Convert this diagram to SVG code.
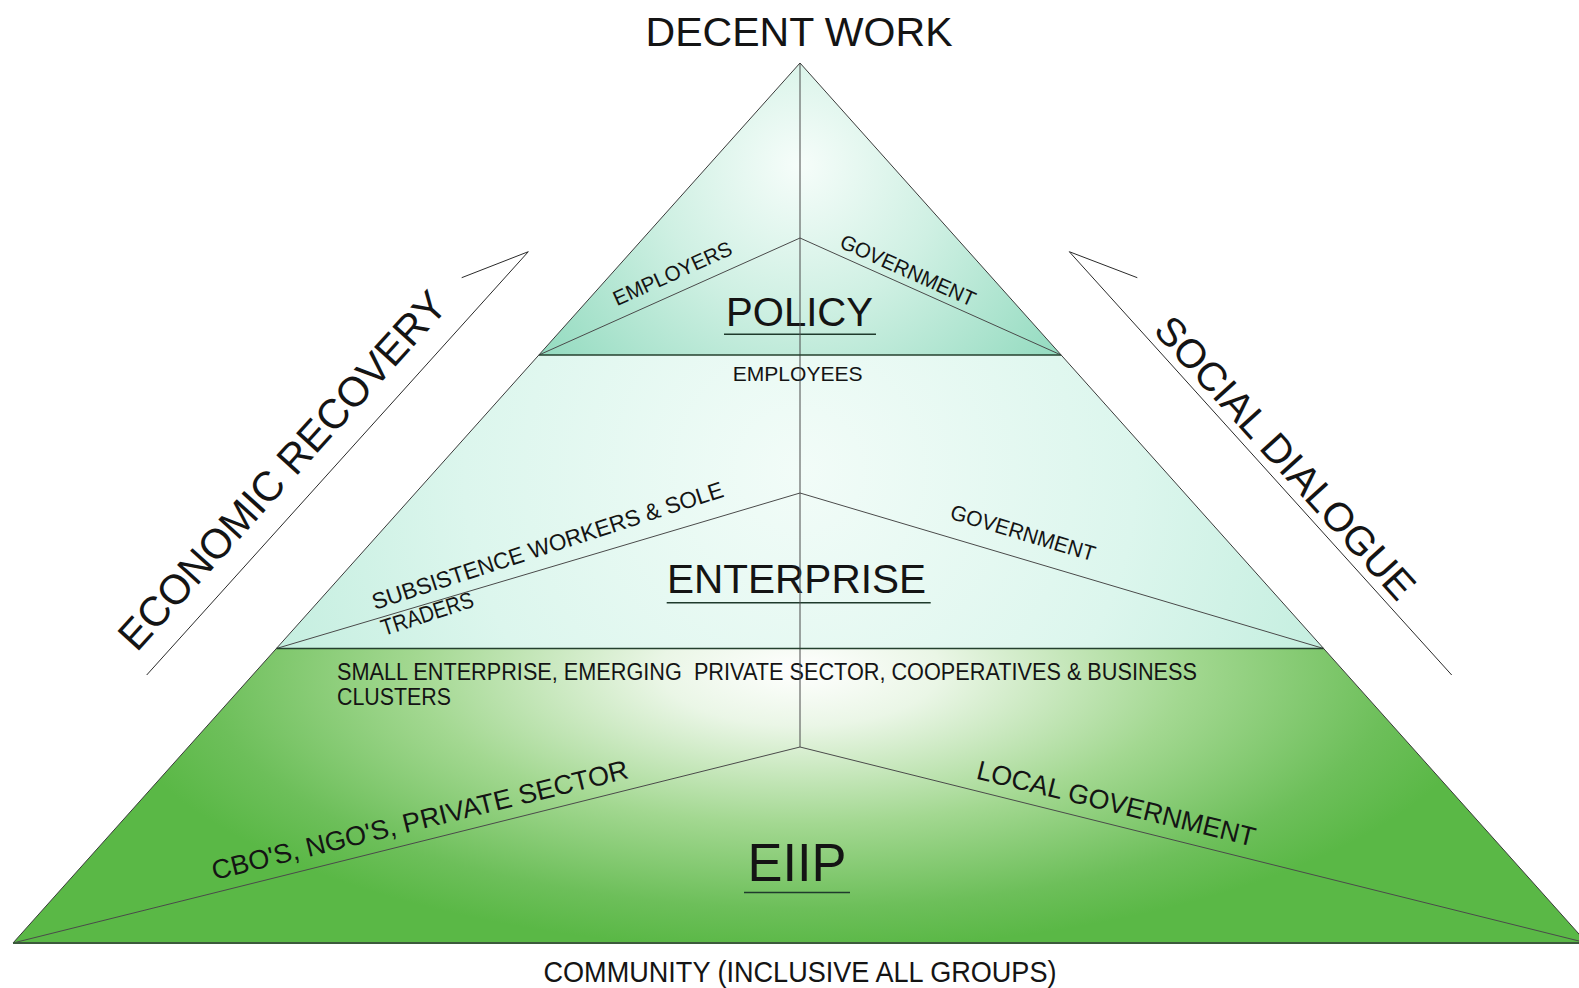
<svg xmlns="http://www.w3.org/2000/svg" width="1579" height="988" viewBox="0 0 1579 988">
  <defs>
    <radialGradient id="gPolicy" gradientUnits="userSpaceOnUse" cx="800" cy="165" r="320">
      <stop offset="0" stop-color="#f6fdfa"/>
      <stop offset="0.45" stop-color="#cff0e3"/>
      <stop offset="1" stop-color="#94dbc0"/>
    </radialGradient>
    <radialGradient id="gEnterprise" gradientUnits="userSpaceOnUse" cx="800" cy="470" r="560">
      <stop offset="0" stop-color="#f2fcf8"/>
      <stop offset="0.6" stop-color="#dcf6ed"/>
      <stop offset="1" stop-color="#c4eedf"/>
    </radialGradient>
    <radialGradient id="gEiip" gradientUnits="userSpaceOnUse" cx="800" cy="670" r="700" gradientTransform="translate(800 670) scale(1 0.4) translate(-800 -670)">
      <stop offset="0" stop-color="#ffffff"/>
      <stop offset="0.2" stop-color="#eaf6e6"/>
      <stop offset="0.55" stop-color="#a3d891"/>
      <stop offset="0.85" stop-color="#6dbf5a"/>
      <stop offset="1" stop-color="#5ab846"/>
    </radialGradient>
  </defs>
  <style>
    text { font-family: "Liberation Sans", Arial, sans-serif; fill: #141414; }
    .edge { stroke: #3a3a3a; stroke-width: 1; fill: none; }
    .tier { stroke: #24402e; stroke-width: 1.3; fill: none; }
    .base { stroke: #3c5a3c; stroke-width: 2; fill: none; }
    .inner { stroke: #4a4a4a; stroke-width: 1; fill: none; }
    .uline { stroke: #1f3a2c; stroke-width: 1.5; }
    .arrow { stroke: #2a2a2a; stroke-width: 1; fill: none; stroke-linejoin: miter; }
    .big { font-size: 41px; }
    .lbl { font-size: 21px; }
  </style>

  <rect width="1579" height="988" fill="#ffffff"/>

  <!-- title -->
  <g id="title">
    <text x="799" y="46" font-size="41" text-anchor="middle" textLength="307" lengthAdjust="spacingAndGlyphs">DECENT WORK</text>
  </g>

  <!-- bottom tier: EIIP -->
  <g id="tier-eiip">
    <polygon points="276.4,648.5 1323.6,648.5 1587,943 13,943" fill="url(#gEiip)"/>
    <text x="337" y="680" font-size="23" textLength="860" lengthAdjust="spacingAndGlyphs" xml:space="preserve">SMALL ENTERPRISE, EMERGING  PRIVATE SECTOR, COOPERATIVES &amp; BUSINESS</text>
    <text x="337" y="705" font-size="23" textLength="114" lengthAdjust="spacingAndGlyphs">CLUSTERS</text>
    <text transform="translate(422 829) rotate(-13.8)" font-size="27" text-anchor="middle" textLength="428" lengthAdjust="spacingAndGlyphs">CBO'S, NGO'S, PRIVATE SECTOR</text>
    <text transform="translate(1114 812.5) rotate(13.8)" font-size="27" text-anchor="middle" textLength="286" lengthAdjust="spacingAndGlyphs">LOCAL GOVERNMENT</text>
    <text x="797" y="881" font-size="53" text-anchor="middle" textLength="99" lengthAdjust="spacingAndGlyphs">EIIP</text>
    <line class="uline" x1="744" y1="892.5" x2="850" y2="892.5"/>
  </g>

  <!-- middle tier: ENTERPRISE -->
  <g id="tier-enterprise">
    <polygon points="538.9,355 1061.1,355 1323.6,648.5 276.4,648.5" fill="url(#gEnterprise)"/>
    <text x="797.7" y="381" font-size="21" text-anchor="middle" textLength="130" lengthAdjust="spacingAndGlyphs">EMPLOYEES</text>
    <text transform="translate(375 610) rotate(-18)" font-size="23" textLength="368" lengthAdjust="spacingAndGlyphs">SUBSISTENCE WORKERS &amp; SOLE</text>
    <text transform="translate(384 636) rotate(-18)" font-size="23" textLength="96" lengthAdjust="spacingAndGlyphs">TRADERS</text>
    <text transform="translate(1020.8 540) rotate(16.6)" font-size="21.5" text-anchor="middle" textLength="150" lengthAdjust="spacingAndGlyphs">GOVERNMENT</text>
    <text x="796.5" y="593.3" class="big" text-anchor="middle" textLength="259" lengthAdjust="spacingAndGlyphs">ENTERPRISE</text>
    <line class="uline" x1="666.7" y1="602.7" x2="930.7" y2="602.7"/>
  </g>

  <!-- top tier: POLICY -->
  <g id="tier-policy">
    <polygon points="800,63 1061.1,355 538.9,355" fill="url(#gPolicy)"/>
    <text transform="translate(675.5 280) rotate(-24.2)" class="lbl" text-anchor="middle" textLength="128" lengthAdjust="spacingAndGlyphs">EMPLOYERS</text>
    <text transform="translate(905 277) rotate(24.2)" class="lbl" text-anchor="middle" textLength="146" lengthAdjust="spacingAndGlyphs">GOVERNMENT</text>
    <text x="799.5" y="326" class="big" text-anchor="middle" textLength="147" lengthAdjust="spacingAndGlyphs">POLICY</text>
    <line class="uline" x1="724" y1="334.3" x2="876" y2="334.3"/>
  </g>

  <!-- structural lines of the pyramid -->
  <g id="connectors">
    <line class="inner" x1="800" y1="63" x2="800" y2="747"/>
    <polyline class="inner" points="538.9,355 800,238 1061.1,355"/>
    <polyline class="inner" points="276.4,648.5 800,493 1323.6,648.5"/>
    <polyline class="inner" points="13,943 800,747 1587,943"/>
    <line class="tier" x1="538.9" y1="355" x2="1061.1" y2="355"/>
    <line class="tier" x1="276.4" y1="648.5" x2="1323.6" y2="648.5"/>
    <polyline class="edge" points="13,943 800,63 1587,943"/>
    <line class="base" x1="13" y1="943" x2="1587" y2="943"/>
  </g>

  <!-- side arrows -->
  <g id="arrow-economic">
    <polyline class="arrow" points="146.7,675 528.3,251.7 461.7,277.7"/>
    <text transform="translate(293 480) rotate(-47.9)" font-size="42" text-anchor="middle" textLength="466" lengthAdjust="spacingAndGlyphs">ECONOMIC RECOVERY</text>
  </g>
  <g id="arrow-social">
    <polyline class="arrow" points="1451.7,675 1069.3,251.7 1137.3,277.7"/>
    <text transform="translate(1275 467) rotate(47.9)" font-size="40" text-anchor="middle" textLength="366" lengthAdjust="spacingAndGlyphs">SOCIAL DIALOGUE</text>
  </g>

  <!-- footer -->
  <g id="footer">
    <text x="800" y="982" font-size="29" text-anchor="middle" textLength="513" lengthAdjust="spacingAndGlyphs">COMMUNITY (INCLUSIVE ALL GROUPS)</text>
  </g>
</svg>
